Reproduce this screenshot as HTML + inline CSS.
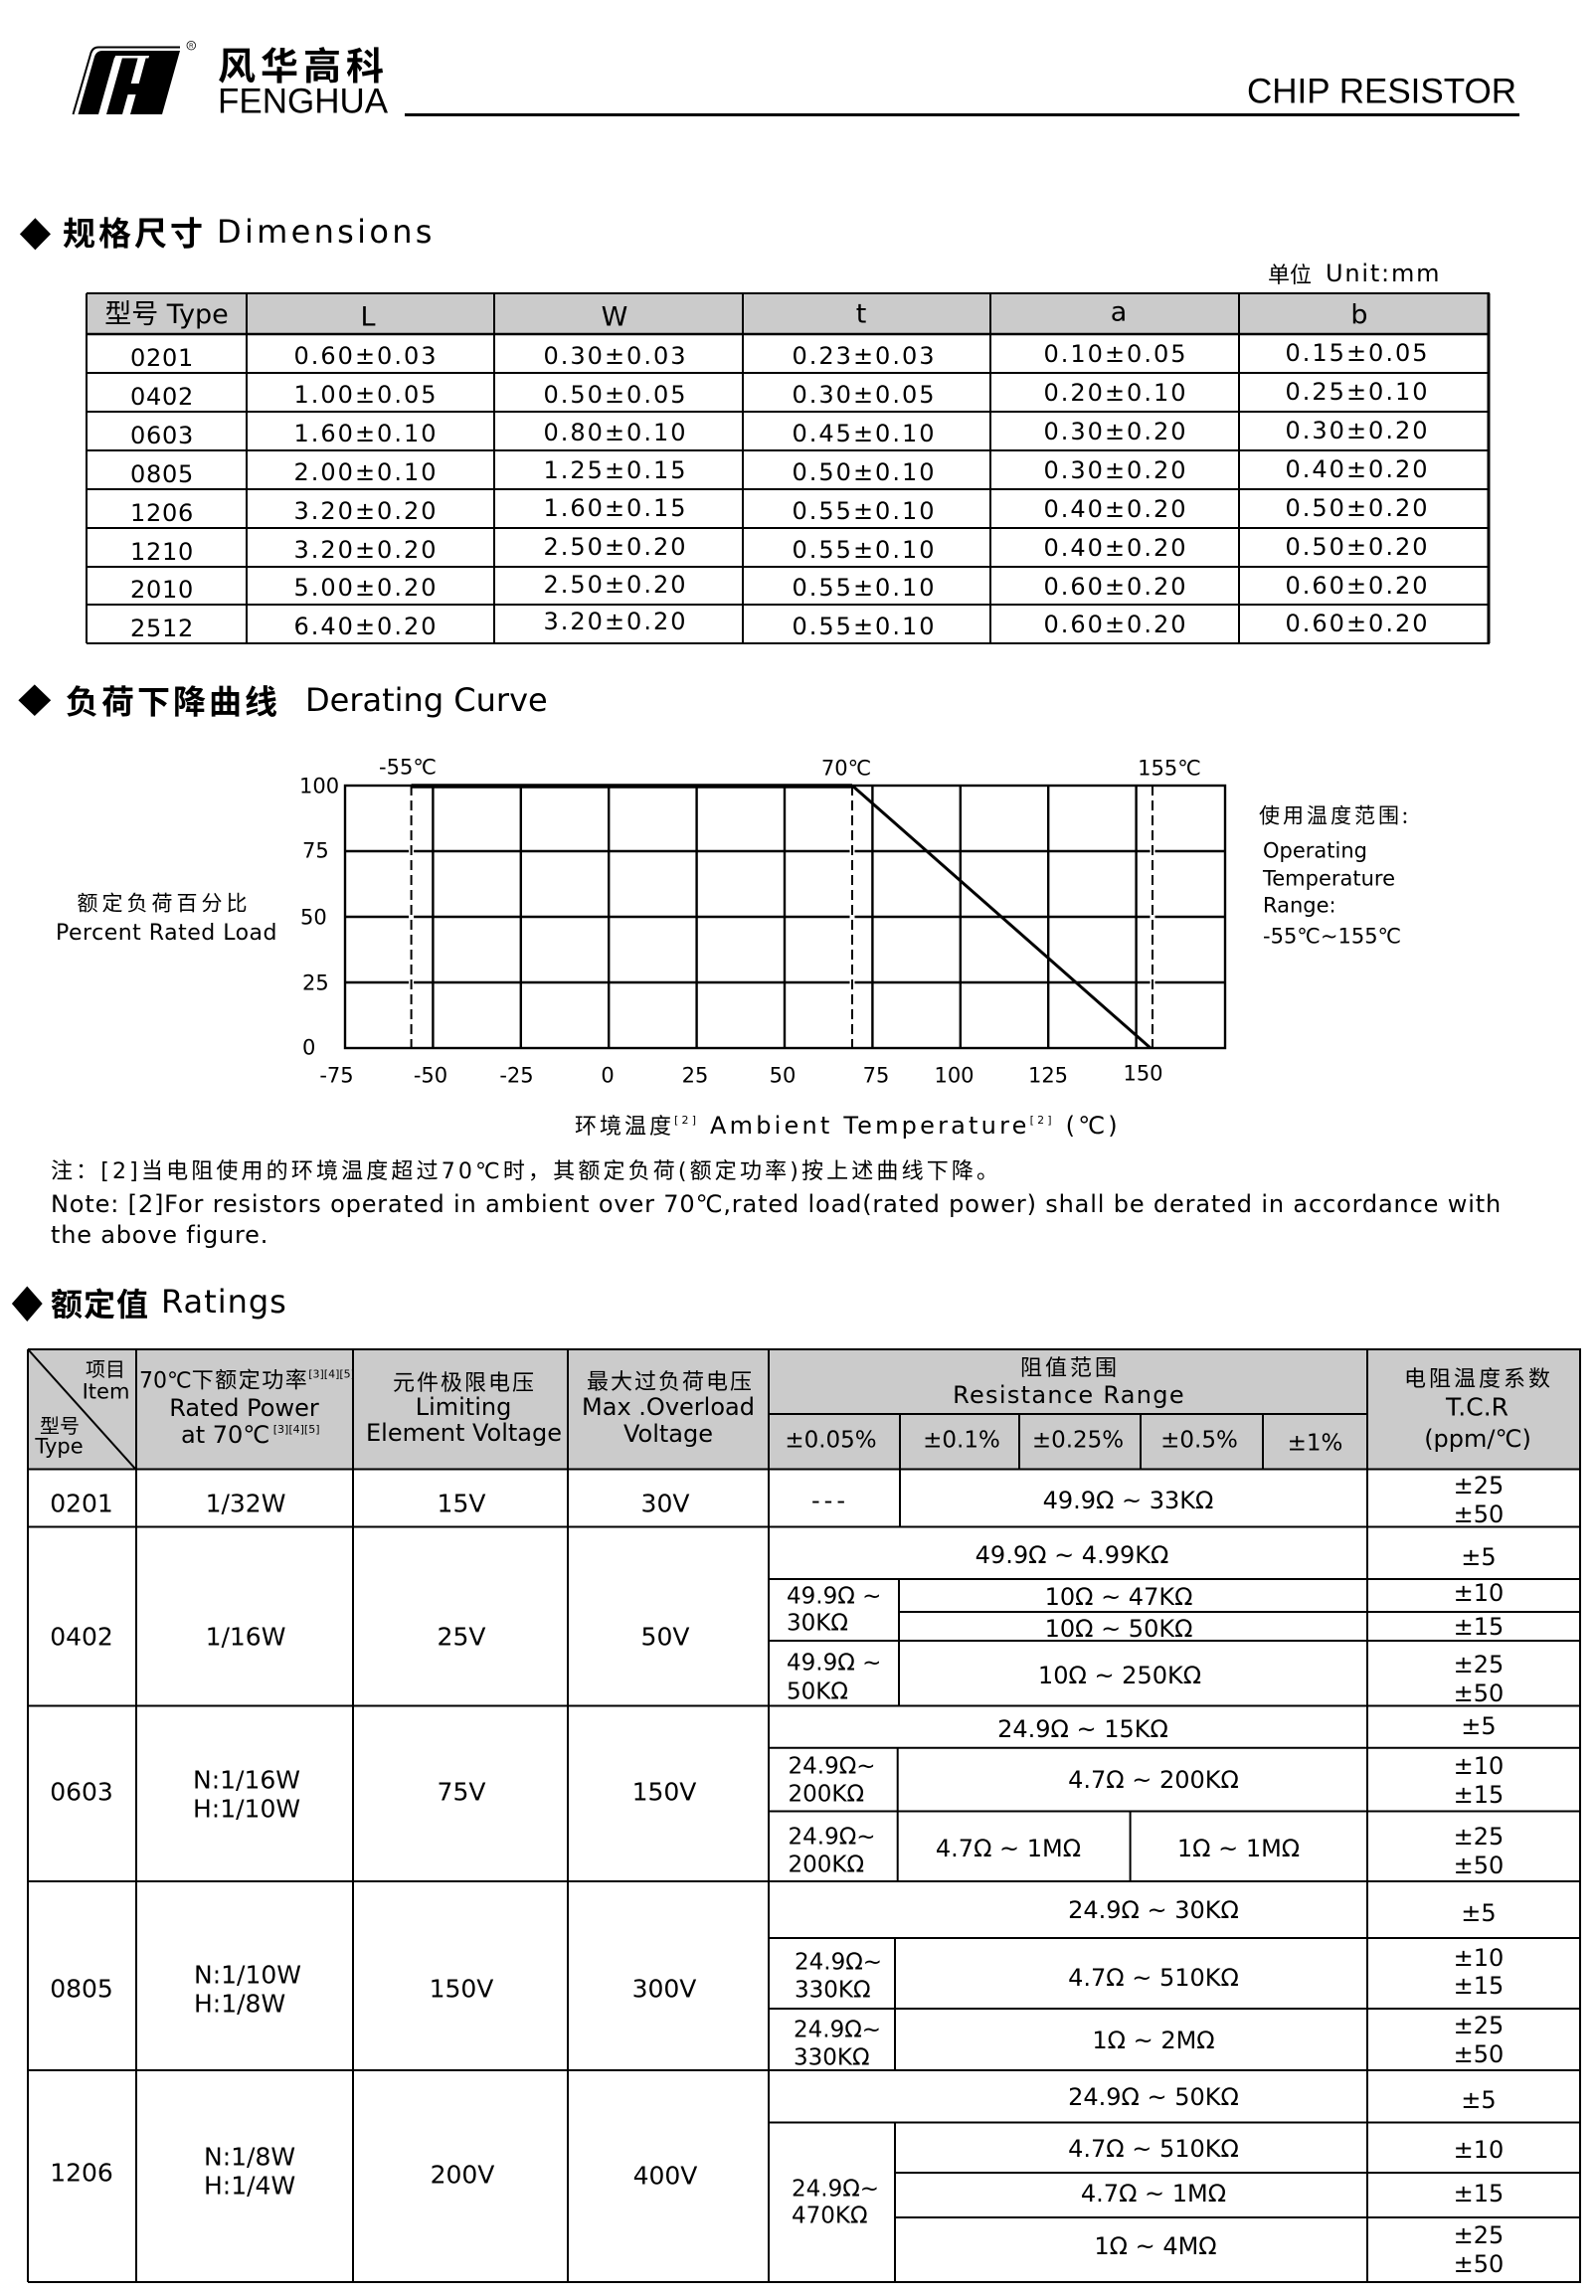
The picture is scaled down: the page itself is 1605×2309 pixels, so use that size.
<!DOCTYPE html>
<html><head><meta charset="utf-8">
<style>
body{margin:0;background:#fff}
#pg{position:relative;width:1605px;height:2309px;overflow:hidden;background:#fff;font-family:"DejaVu Sans","Noto Sans CJK SC",sans-serif;color:#000}
.p{position:absolute;transform:translate(-50%,-50%);white-space:nowrap;line-height:1}
.l{position:absolute;transform:translateY(-50%);white-space:nowrap;line-height:1}
.cj{font-family:"Noto Sans CJK SC",sans-serif}
.b{font-weight:bold}
.sup{font-size:11px;position:relative;top:-10px}
.t1{font-size:24px;letter-spacing:2px}
.t0{font-size:24px;letter-spacing:0.7px}
.r{font-size:24px}
.r25{font-size:25px}
.s23{font-size:23px}
.ch{font-size:21px}
</style></head><body><div id="pg">
<svg width="1605" height="2309" style="position:absolute;left:0;top:0" xmlns="http://www.w3.org/2000/svg">
<!-- logo -->
<path d="M73.5,115 L91.5,53 Q93.5,47.5 99,47.5 L181,47.5" stroke="#000" stroke-width="2" fill="none"/>
<path d="M78.5,115 L95,57 Q97,51 103,51 L181,51 L163,115 Z" fill="#000"/>
<polygon points="99,115 107,115 123,58 115,58" fill="#fff"/>
<polygon points="116,56 150,56 149.4,58.5 115.3,58.5" fill="#fff"/>
<polygon points="139,57 147,57 139.7,84 131.7,84" fill="#fff"/>
<polygon points="128.6,95 136.6,95 131,115 123,115" fill="#fff"/>
<circle cx="192.3" cy="45.7" r="4.3" fill="none" stroke="#000" stroke-width="0.8"/>
<text x="192.3" y="48" font-size="6" text-anchor="middle" font-family="Liberation Sans">R</text>
<!-- header line -->
<rect x="407" y="114" width="1121" height="3" fill="#000"/>
<!-- diamonds -->
<polygon points="35.4,219.3 51,235.4 35.4,251.4 19.9,235.4" fill="#000"/>
<polygon points="34.8,688.4 51.2,704.2 34.8,720 18.4,704.2" fill="#000"/>
<polygon points="27.3,1293.5 42.7,1311 27.3,1329 11.9,1311" fill="#000"/>
<!-- table 1 -->
<rect x="87" y="295" width="1410" height="41" fill="#cbcbcb"/>
<g stroke="#000" stroke-width="2">
<line x1="87" y1="295" x2="1498" y2="295"/>
<line x1="87" y1="336" x2="1498" y2="336" stroke-width="2.6"/>
<line x1="87" y1="375" x2="1498" y2="375"/>
<line x1="87" y1="414" x2="1498" y2="414"/>
<line x1="87" y1="453" x2="1498" y2="453"/>
<line x1="87" y1="492" x2="1498" y2="492"/>
<line x1="87" y1="531" x2="1498" y2="531"/>
<line x1="87" y1="570" x2="1498" y2="570"/>
<line x1="87" y1="608" x2="1498" y2="608"/>
<line x1="87" y1="647" x2="1498" y2="647"/>
<line x1="87" y1="295" x2="87" y2="647"/>
<line x1="248" y1="295" x2="248" y2="647"/>
<line x1="497" y1="295" x2="497" y2="647"/>
<line x1="747" y1="295" x2="747" y2="647"/>
<line x1="996" y1="295" x2="996" y2="647"/>
<line x1="1246" y1="295" x2="1246" y2="647"/>
<line x1="1497" y1="295" x2="1497" y2="647" stroke-width="3"/>
</g>
<!-- chart -->
<g stroke="#000" stroke-width="2.4" fill="none">
<rect x="347" y="790" width="885" height="264"/>
<line x1="347" y1="856" x2="1232" y2="856"/>
<line x1="347" y1="922" x2="1232" y2="922"/>
<line x1="347" y1="988" x2="1232" y2="988"/>
<line x1="435.4" y1="790" x2="435.4" y2="1054"/>
<line x1="523.8" y1="790" x2="523.8" y2="1054"/>
<line x1="612.2" y1="790" x2="612.2" y2="1054"/>
<line x1="700.6" y1="790" x2="700.6" y2="1054"/>
<line x1="789" y1="790" x2="789" y2="1054"/>
<line x1="877.4" y1="790" x2="877.4" y2="1054"/>
<line x1="965.8" y1="790" x2="965.8" y2="1054"/>
<line x1="1054.2" y1="790" x2="1054.2" y2="1054"/>
<line x1="1142.6" y1="790" x2="1142.6" y2="1054"/>
</g>
<g stroke="#fff" stroke-width="5">
<line x1="413.6" y1="793" x2="413.6" y2="1051"/>
<line x1="857" y1="793" x2="857" y2="1051"/>
<line x1="1159" y1="793" x2="1159" y2="1051"/>
</g>
<g stroke="#000" stroke-width="2" stroke-dasharray="10 5">
<line x1="413.6" y1="790" x2="413.6" y2="1054"/>
<line x1="857" y1="790" x2="857" y2="1054"/>
<line x1="1159" y1="790" x2="1159" y2="1054"/>
</g>
<line x1="413.6" y1="790.5" x2="857" y2="790.5" stroke="#000" stroke-width="4.5"/>
<line x1="857" y1="790" x2="1157" y2="1054" stroke="#000" stroke-width="3"/>
<!-- ratings table -->
<rect x="28" y="1357" width="1561" height="121" fill="#cbcbcb"/>
<g stroke="#000" stroke-width="2">
<line x1="28" y1="1357" x2="1590" y2="1357"/>
<line x1="28" y1="1477.5" x2="1590" y2="1477.5"/>
<line x1="28" y1="1535.5" x2="1590" y2="1535.5"/>
<line x1="28" y1="1715.5" x2="1590" y2="1715.5"/>
<line x1="28" y1="1892" x2="1590" y2="1892"/>
<line x1="28" y1="2082" x2="1590" y2="2082"/>
<line x1="28" y1="2295" x2="1590" y2="2295"/>
<line x1="28" y1="1357" x2="28" y2="2295"/>
<line x1="137" y1="1357" x2="137" y2="2295"/>
<line x1="355" y1="1357" x2="355" y2="2295"/>
<line x1="571" y1="1357" x2="571" y2="2295"/>
<line x1="773" y1="1357" x2="773" y2="2295"/>
<line x1="1375" y1="1357" x2="1375" y2="2295"/>
<line x1="1589" y1="1357" x2="1589" y2="2295"/>
<line x1="773" y1="1422" x2="1375" y2="1422"/>
<line x1="905" y1="1422" x2="905" y2="1477.5"/>
<line x1="1025" y1="1422" x2="1025" y2="1477.5"/>
<line x1="1147" y1="1422" x2="1147" y2="1477.5"/>
<line x1="1270" y1="1422" x2="1270" y2="1477.5"/>
<line x1="29" y1="1358" x2="136" y2="1477"/>
<line x1="905" y1="1477.5" x2="905" y2="1535.5"/>
<line x1="773" y1="1588" x2="1590" y2="1588"/>
<line x1="904" y1="1588" x2="904" y2="1715.5"/>
<line x1="904" y1="1621" x2="1590" y2="1621"/>
<line x1="773" y1="1650" x2="1590" y2="1650"/>
<line x1="773" y1="1757.7" x2="1590" y2="1757.7"/>
<line x1="902.7" y1="1757.7" x2="902.7" y2="1892"/>
<line x1="773" y1="1821.5" x2="1590" y2="1821.5"/>
<line x1="1136.6" y1="1821.5" x2="1136.6" y2="1892"/>
<line x1="773" y1="1949" x2="1590" y2="1949"/>
<line x1="900" y1="1949" x2="900" y2="2082"/>
<line x1="773" y1="2020" x2="1590" y2="2020"/>
<line x1="773" y1="2134.5" x2="1590" y2="2134.5"/>
<line x1="900" y1="2134.5" x2="900" y2="2295"/>
<line x1="900" y1="2185" x2="1590" y2="2185"/>
<line x1="900" y1="2230" x2="1590" y2="2230"/>
</g>
</svg>

<!-- header -->
<div class="l cj b" style="left:219px;top:64px;font-size:38px;letter-spacing:5px">风华高科</div>
<div class="l" style="left:219px;top:101.5px;font-size:35px;font-family:'Liberation Sans',sans-serif">FENGHUA</div>
<div style="position:absolute;right:80px;top:92px;transform:translateY(-50%);line-height:1;font-size:35px;font-family:'Liberation Sans',sans-serif;white-space:nowrap">CHIP RESISTOR</div>

<!-- Dimensions -->
<div class="l cj b" style="left:63px;top:233px;font-size:33px;letter-spacing:3px">规格尺寸</div>
<div class="l" style="left:218px;top:232.5px;font-size:32px;letter-spacing:3.3px">Dimensions</div>
<div class="l cj" style="left:1275px;top:275px;font-size:22px">单位</div>
<div class="l" style="left:1333px;top:275px;font-size:24px;letter-spacing:1.8px">Unit:mm</div>

<div class="p" style="left:167.5px;top:315px;font-size:27px"><span class="cj">型号</span> Type</div>
<div class="p" style="left:370px;top:319px;font-size:27px">L</div>
<div class="p" style="left:618px;top:319px;font-size:27px">W</div>
<div class="p" style="left:866px;top:316px;font-size:27px">t</div>
<div class="p" style="left:1125px;top:314px;font-size:27px">a</div>
<div class="p" style="left:1367px;top:317px;font-size:27px">b</div>

<div class="p t0" style="left:163px;top:359.5px">0201</div>
<div class="p t0" style="left:163px;top:398.5px">0402</div>
<div class="p t0" style="left:163px;top:437.5px">0603</div>
<div class="p t0" style="left:163px;top:476.5px">0805</div>
<div class="p t0" style="left:163px;top:515.5px">1206</div>
<div class="p t0" style="left:163px;top:554.5px">1210</div>
<div class="p t0" style="left:163px;top:593px">2010</div>
<div class="p t0" style="left:163px;top:631.5px">2512</div>

<div class="p t1" style="left:368px;top:357.5px">0.60±0.03</div>
<div class="p t1" style="left:619px;top:357.5px">0.30±0.03</div>
<div class="p t1" style="left:869px;top:358px">0.23±0.03</div>
<div class="p t1" style="left:1122px;top:356px">0.10±0.05</div>
<div class="p t1" style="left:1365px;top:355px">0.15±0.05</div>

<div class="p t1" style="left:368px;top:396.5px">1.00±0.05</div>
<div class="p t1" style="left:619px;top:396.5px">0.50±0.05</div>
<div class="p t1" style="left:869px;top:397px">0.30±0.05</div>
<div class="p t1" style="left:1122px;top:395px">0.20±0.10</div>
<div class="p t1" style="left:1365px;top:394px">0.25±0.10</div>

<div class="p t1" style="left:368px;top:435.5px">1.60±0.10</div>
<div class="p t1" style="left:619px;top:434.5px">0.80±0.10</div>
<div class="p t1" style="left:869px;top:435.5px">0.45±0.10</div>
<div class="p t1" style="left:1122px;top:434px">0.30±0.20</div>
<div class="p t1" style="left:1365px;top:433px">0.30±0.20</div>

<div class="p t1" style="left:368px;top:474.5px">2.00±0.10</div>
<div class="p t1" style="left:619px;top:472.5px">1.25±0.15</div>
<div class="p t1" style="left:869px;top:474.5px">0.50±0.10</div>
<div class="p t1" style="left:1122px;top:473px">0.30±0.20</div>
<div class="p t1" style="left:1365px;top:472px">0.40±0.20</div>

<div class="p t1" style="left:368px;top:513.5px">3.20±0.20</div>
<div class="p t1" style="left:619px;top:511px">1.60±0.15</div>
<div class="p t1" style="left:869px;top:513.5px">0.55±0.10</div>
<div class="p t1" style="left:1122px;top:512px">0.40±0.20</div>
<div class="p t1" style="left:1365px;top:511px">0.50±0.20</div>

<div class="p t1" style="left:368px;top:552.5px">3.20±0.20</div>
<div class="p t1" style="left:619px;top:549.5px">2.50±0.20</div>
<div class="p t1" style="left:869px;top:552.5px">0.55±0.10</div>
<div class="p t1" style="left:1122px;top:551px">0.40±0.20</div>
<div class="p t1" style="left:1365px;top:550px">0.50±0.20</div>

<div class="p t1" style="left:368px;top:591px">5.00±0.20</div>
<div class="p t1" style="left:619px;top:588px">2.50±0.20</div>
<div class="p t1" style="left:869px;top:591px">0.55±0.10</div>
<div class="p t1" style="left:1122px;top:590px">0.60±0.20</div>
<div class="p t1" style="left:1365px;top:589px">0.60±0.20</div>

<div class="p t1" style="left:368px;top:629.5px">6.40±0.20</div>
<div class="p t1" style="left:619px;top:625px">3.20±0.20</div>
<div class="p t1" style="left:869px;top:629.5px">0.55±0.10</div>
<div class="p t1" style="left:1122px;top:628px">0.60±0.20</div>
<div class="p t1" style="left:1365px;top:627px">0.60±0.20</div>

<!-- Derating -->
<div class="l cj b" style="left:66px;top:704px;font-size:33px;letter-spacing:3px">负荷下降曲线</div>
<div class="l" style="left:307px;top:704px;font-size:32px">Derating Curve</div>

<div class="p ch" style="left:410px;top:772px">-55℃</div>
<div class="p ch" style="left:851px;top:773px">70℃</div>
<div class="p ch" style="left:1176px;top:773px">155℃</div>

<div class="l ch" style="left:301px;top:791px">100</div>
<div class="l ch" style="left:304px;top:856px">75</div>
<div class="l ch" style="left:302px;top:923px">50</div>
<div class="l ch" style="left:304px;top:989px">25</div>
<div class="l ch" style="left:304px;top:1053.5px">0</div>

<div class="p ch" style="left:338.5px;top:1082px">-75</div>
<div class="p ch" style="left:433px;top:1082px">-50</div>
<div class="p ch" style="left:519.5px;top:1082px">-25</div>
<div class="p ch" style="left:611px;top:1082px">0</div>
<div class="p ch" style="left:699px;top:1082px">25</div>
<div class="p ch" style="left:787px;top:1082px">50</div>
<div class="p ch" style="left:881px;top:1082px">75</div>
<div class="p ch" style="left:959.5px;top:1082px">100</div>
<div class="p ch" style="left:1054px;top:1082px">125</div>
<div class="p ch" style="left:1149.5px;top:1080px">150</div>

<div class="p cj" style="left:165px;top:908px;font-size:21px;letter-spacing:4px">额定负荷百分比</div>
<div class="p" style="left:167.5px;top:938.5px;font-size:22px;letter-spacing:0.5px">Percent Rated Load</div>

<div class="l cj" style="left:1266px;top:820px;font-size:21px;letter-spacing:3px">使用温度范围:</div>
<div class="l ch" style="left:1270px;top:856px">Operating</div>
<div class="l ch" style="left:1270px;top:884px">Temperature</div>
<div class="l ch" style="left:1270px;top:911px">Range:</div>
<div class="l ch" style="left:1270px;top:942px">-55℃~155℃</div>

<div class="l" style="left:578px;top:1132px;font-size:24px;letter-spacing:3.2px"><span class="cj" style="font-size:22px;letter-spacing:3px">环境温度</span><span class="sup">[2]</span> Ambient Temperature<span class="sup">[2]</span> (℃)</div>

<div class="l" style="left:51px;top:1179px;font-size:22px;letter-spacing:3.15px">注：[2]当电阻使用的环境温度超过70℃时，其额定负荷(额定功率)按上述曲线下降。</div>
<div class="l" style="left:51px;top:1210.5px;font-size:24px;letter-spacing:0.85px">Note: [2]For resistors operated in ambient over 70℃,rated load(rated power) shall be derated in accordance with</div>
<div class="l" style="left:51px;top:1242px;font-size:24px;letter-spacing:0.8px">the above figure.</div>

<!-- Ratings -->
<div class="l cj b" style="left:51px;top:1310px;font-size:32px;letter-spacing:1px">额定值</div>
<div class="l" style="left:162px;top:1309px;font-size:32px;letter-spacing:1px">Ratings</div>

<div class="p cj" style="left:106px;top:1375.5px;font-size:20px">项目</div>
<div class="p" style="left:106.5px;top:1400px;font-size:21px">Item</div>
<div class="p cj" style="left:60px;top:1432.5px;font-size:20px">型号</div>
<div class="p" style="left:59.5px;top:1455px;font-size:21px">Type</div>

<div class="l" style="left:140px;top:1388px;font-size:22px">70℃<span class="cj" style="letter-spacing:1.5px">下额定功率</span><span class="sup">[3][4][5]</span></div>
<div class="p" style="left:245.5px;top:1416px;font-size:24px">Rated Power</div>
<div class="l" style="left:182px;top:1443px;font-size:24px">at 70℃<span class="sup"> [3][4][5]</span></div>

<div class="p cj" style="left:467px;top:1389px;font-size:22px;letter-spacing:2px">元件极限电压</div>
<div class="p" style="left:466px;top:1415px;font-size:24px">Limiting</div>
<div class="p" style="left:466.5px;top:1441px;font-size:24px">Element Voltage</div>

<div class="p cj" style="left:674px;top:1388px;font-size:22px;letter-spacing:2px">最大过负荷电压</div>
<div class="p" style="left:672px;top:1414.5px;font-size:24px">Max .Overload</div>
<div class="p" style="left:672px;top:1441.6px;font-size:24px">Voltage</div>

<div class="p cj" style="left:1076px;top:1374px;font-size:22px;letter-spacing:3px">阻值范围</div>
<div class="p" style="left:1075px;top:1403px;font-size:24px;letter-spacing:1.3px">Resistance Range</div>
<div class="p s23" style="left:835.5px;top:1449px">±0.05%</div>
<div class="p s23" style="left:967px;top:1449px">±0.1%</div>
<div class="p s23" style="left:1084px;top:1449px">±0.25%</div>
<div class="p s23" style="left:1206px;top:1449px">±0.5%</div>
<div class="p s23" style="left:1322.5px;top:1452px">±1%</div>

<div class="p cj" style="left:1487px;top:1385px;font-size:22px;letter-spacing:3px">电阻温度系数</div>
<div class="p" style="left:1485.5px;top:1414.5px;font-size:25px">T.C.R</div>
<div class="p" style="left:1486px;top:1447px;font-size:24px">(ppm/℃)</div>

<!-- body rows -->
<div class="p r25" style="left:82px;top:1512px">0201</div>
<div class="p r25" style="left:82px;top:1646px">0402</div>
<div class="p r25" style="left:82px;top:1802px">0603</div>
<div class="p r25" style="left:82px;top:2000px">0805</div>
<div class="p r25" style="left:82px;top:2185px">1206</div>

<div class="p r25" style="left:247px;top:1512px">1/32W</div>
<div class="p r25" style="left:247px;top:1646px">1/16W</div>
<div class="l r25" style="left:194px;top:1790px">N:1/16W</div>
<div class="l r25" style="left:194px;top:1819px">H:1/10W</div>
<div class="l r25" style="left:195px;top:1986px">N:1/10W</div>
<div class="l r25" style="left:195px;top:2015px">H:1/8W</div>
<div class="l r25" style="left:205px;top:2169px">N:1/8W</div>
<div class="l r25" style="left:205px;top:2198px">H:1/4W</div>

<div class="p r25" style="left:464px;top:1512px">15V</div>
<div class="p r25" style="left:464px;top:1646px">25V</div>
<div class="p r25" style="left:464px;top:1802px">75V</div>
<div class="p r25" style="left:464px;top:2000px">150V</div>
<div class="p r25" style="left:465px;top:2187px">200V</div>

<div class="p r25" style="left:669px;top:1512px">30V</div>
<div class="p r25" style="left:669px;top:1646px">50V</div>
<div class="p r25" style="left:668px;top:1802px">150V</div>
<div class="p r25" style="left:668px;top:2000px">300V</div>
<div class="p r25" style="left:669px;top:2188px">400V</div>

<!-- resistance -->
<div class="p r" style="left:835px;top:1509px;letter-spacing:4px">---</div>
<div class="p r" style="left:1134.5px;top:1509px">49.9Ω ~ 33KΩ</div>

<div class="p r" style="left:1078px;top:1564px">49.9Ω ~ 4.99KΩ</div>
<div class="l s23" style="left:791px;top:1605.6px">49.9Ω ~</div>
<div class="l s23" style="left:791px;top:1633px">30KΩ</div>
<div class="p r" style="left:1125px;top:1605.6px">10Ω ~ 47KΩ</div>
<div class="p r" style="left:1125px;top:1638px">10Ω ~ 50KΩ</div>
<div class="l s23" style="left:791px;top:1672.6px">49.9Ω ~</div>
<div class="l s23" style="left:791px;top:1701.5px">50KΩ</div>
<div class="p r" style="left:1126px;top:1685px">10Ω ~ 250KΩ</div>

<div class="p r" style="left:1089px;top:1738.6px">24.9Ω ~ 15KΩ</div>
<div class="l s23" style="left:792.5px;top:1776.8px">24.9Ω~</div>
<div class="l s23" style="left:792.5px;top:1804.6px">200KΩ</div>
<div class="p r" style="left:1160px;top:1790px">4.7Ω ~ 200KΩ</div>
<div class="l s23" style="left:792.5px;top:1848px">24.9Ω~</div>
<div class="l s23" style="left:792.5px;top:1875.5px">200KΩ</div>
<div class="p r" style="left:1014px;top:1859px">4.7Ω ~ 1MΩ</div>
<div class="p r" style="left:1245.5px;top:1859px">1Ω ~ 1MΩ</div>

<div class="p r" style="left:1160px;top:1920.7px">24.9Ω ~ 30KΩ</div>
<div class="l s23" style="left:799px;top:1973.6px">24.9Ω~</div>
<div class="l s23" style="left:799px;top:2002px">330KΩ</div>
<div class="p r" style="left:1160px;top:1989px">4.7Ω ~ 510KΩ</div>
<div class="l s23" style="left:798px;top:2041.8px">24.9Ω~</div>
<div class="l s23" style="left:798px;top:2069.6px">330KΩ</div>
<div class="p r" style="left:1160px;top:2052px">1Ω ~ 2MΩ</div>

<div class="p r" style="left:1160px;top:2109.4px">24.9Ω ~ 50KΩ</div>
<div class="l s23" style="left:796px;top:2202px">24.9Ω~</div>
<div class="l s23" style="left:796px;top:2229px">470KΩ</div>
<div class="p r" style="left:1160px;top:2160.7px">4.7Ω ~ 510KΩ</div>
<div class="p r" style="left:1160px;top:2206px">4.7Ω ~ 1MΩ</div>
<div class="p r" style="left:1162px;top:2259px">1Ω ~ 4MΩ</div>

<!-- TCR -->
<div class="p r" style="left:1487px;top:1494px">±25</div>
<div class="p r" style="left:1487px;top:1523px">±50</div>
<div class="p r" style="left:1487px;top:1566px">±5</div>
<div class="p r" style="left:1487px;top:1602px">±10</div>
<div class="p r" style="left:1487px;top:1636px">±15</div>
<div class="p r" style="left:1487px;top:1673.7px">±25</div>
<div class="p r" style="left:1487px;top:1703px">±50</div>
<div class="p r" style="left:1487px;top:1736px">±5</div>
<div class="p r" style="left:1487px;top:1776px">±10</div>
<div class="p r" style="left:1487px;top:1804.6px">±15</div>
<div class="p r" style="left:1487px;top:1847px">±25</div>
<div class="p r" style="left:1487px;top:1876px">±50</div>
<div class="p r" style="left:1487px;top:1923.5px">±5</div>
<div class="p r" style="left:1487px;top:1968.7px">±10</div>
<div class="p r" style="left:1487px;top:1996.5px">±15</div>
<div class="p r" style="left:1487px;top:2037.4px">±25</div>
<div class="p r" style="left:1487px;top:2065.8px">±50</div>
<div class="p r" style="left:1487px;top:2112px">±5</div>
<div class="p r" style="left:1487px;top:2161.8px">±10</div>
<div class="p r" style="left:1487px;top:2206px">±15</div>
<div class="p r" style="left:1487px;top:2248px">±25</div>
<div class="p r" style="left:1487px;top:2277px">±50</div>
</div></body></html>
